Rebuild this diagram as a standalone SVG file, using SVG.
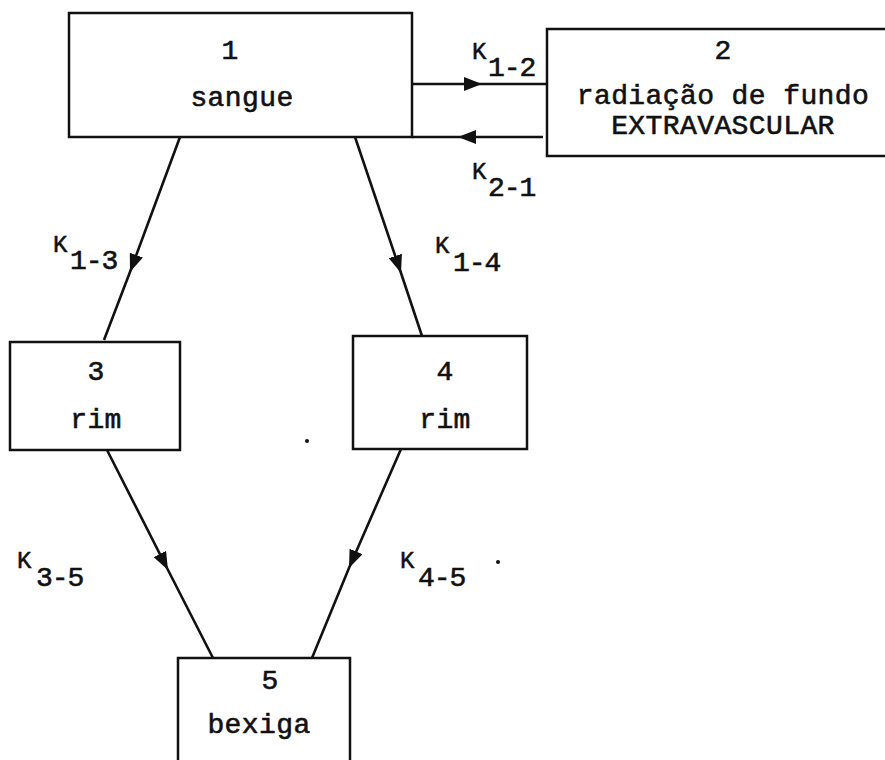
<svg xmlns="http://www.w3.org/2000/svg" width="885" height="760" viewBox="0 0 885 760">
<style>
.box{fill:#fff;stroke:#111;stroke-width:2.5}
.t{font-family:"Liberation Mono","Courier New",monospace;font-size:28px;letter-spacing:0.4px;fill:#111;text-anchor:middle;stroke:#111;stroke-width:0.6}
.k{font-family:"Liberation Mono","Courier New",monospace;font-size:24px;fill:#111;stroke:#111;stroke-width:0.5}
.s{font-family:"Liberation Mono","Courier New",monospace;font-size:28px;letter-spacing:-1px;fill:#111;stroke:#111;stroke-width:0.6}
.c{fill:none;stroke:#111;stroke-width:2.6;marker-mid:url(#ah)}
</style>
<defs>
<marker id="ah" viewBox="0 0 18 14" refX="18" refY="7" markerWidth="18" markerHeight="14" markerUnits="userSpaceOnUse" orient="auto">
<path d="M0,0 L18,7 L0,14 Z" fill="#111"/>
</marker>
</defs>
<g id="connectors">
<path class="c" d="M412,84 L482,84 L547,84"/>
<path class="c" d="M543,137 L458,137 L412,137"/>
<path class="c" d="M180,137 L130,272 L104,340"/>
<path class="c" d="M355,137 L401,273 L422,336"/>
<path class="c" d="M107,450 L168,570 L213,658"/>
<path class="c" d="M401,449 L349,568 L312,658"/>
</g>
<g id="n1">
<rect class="box" x="69" y="13" width="343" height="124"/>
<text class="t" x="230" y="59">1</text>
<text class="t" x="242" y="106">sangue</text>
</g>
<g id="n2">
<rect class="box" x="547" y="29" width="360" height="127"/>
<text class="t" x="723" y="59">2</text>
<text class="t" x="723" y="104">radiação de fundo</text>
<text class="t" x="723" y="134">EXTRAVASCULAR</text>
</g>
<g id="n3">
<rect class="box" x="10" y="342" width="170" height="108"/>
<text class="t" x="96" y="380">3</text>
<text class="t" x="96" y="428">rim</text>
</g>
<g id="n4">
<rect class="box" x="353" y="336" width="174" height="113"/>
<text class="t" x="445" y="380">4</text>
<text class="t" x="445" y="428">rim</text>
</g>
<g id="n5">
<rect class="box" x="178" y="658" width="172" height="120"/>
<text class="t" x="270" y="689">5</text>
<text class="t" x="259" y="733">bexiga</text>
</g>
<g id="labels">
<text class="k" x="472" y="59">K</text><text class="s" x="488" y="76">1-2</text>
<text class="k" x="472" y="179">K</text><text class="s" x="488" y="196">2-1</text>
<text class="k" x="53" y="252">K</text><text class="s" x="70" y="269">1-3</text>
<text class="k" x="435" y="253">K</text><text class="s" x="453" y="271">1-4</text>
<text class="k" x="17" y="568">K</text><text class="s" x="36" y="586">3-5</text>
<text class="k" x="400" y="568">K</text><text class="s" x="418" y="586">4-5</text>
<circle cx="307" cy="441" r="2" fill="#111"/>
<circle cx="498" cy="562" r="2" fill="#111"/>
</g>
</svg>
